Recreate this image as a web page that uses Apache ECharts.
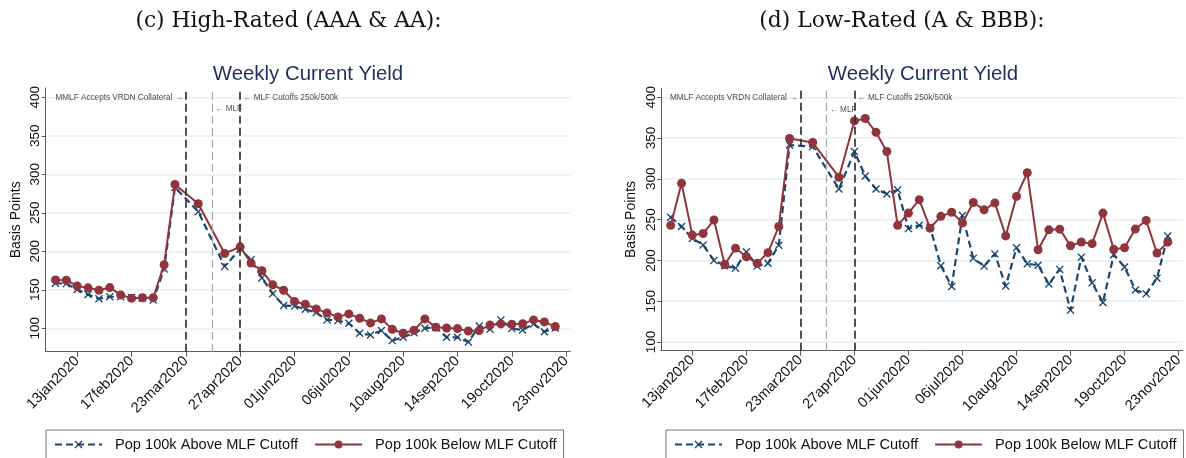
<!DOCTYPE html>
<html>
<head>
<meta charset="utf-8">
<script src="https://cdn.jsdelivr.net/npm/echarts@6/dist/echarts.min.js"></script>
<style>
  html, body { margin: 0; padding: 0; background: #ffffff; }
  #chart { width: 1186px; height: 458px; }
</style>
</head>
<body>
<div id="chart"></div>
<script>
// Observation dates (weekly, with two off-cycle readings around the April facility changes)
const obsDates = [
  '2019-12-30', '2020-01-06', '2020-01-13', '2020-01-20', '2020-01-27', '2020-02-03',
  '2020-02-10', '2020-02-17', '2020-02-24', '2020-03-02', '2020-03-09', '2020-03-16',
  '2020-03-31', '2020-04-17',
  '2020-04-27', '2020-05-04', '2020-05-11', '2020-05-18', '2020-05-25', '2020-06-01',
  '2020-06-08', '2020-06-15', '2020-06-22', '2020-06-29', '2020-07-06', '2020-07-13',
  '2020-07-20', '2020-07-27', '2020-08-03', '2020-08-10', '2020-08-17', '2020-08-24',
  '2020-08-31', '2020-09-07', '2020-09-14', '2020-09-21', '2020-09-28', '2020-10-05',
  '2020-10-12', '2020-10-19', '2020-10-26', '2020-11-02', '2020-11-09', '2020-11-16'
];

// (c) High-rated issuers (AAA & AA), basis points
const highAbove = [
  158.5, 158, 150.3, 143.9, 138.3, 141, 141, 140, 139.5, 136.6, 177, 283,
  251.5, 180.4,
  203, 189, 165.4, 145, 129.5, 128.8, 124.8, 120.4, 110.9, 110, 106.6, 93.5,
  91.3, 97, 84, 88.3, 94.3, 100, 101.4, 88.3, 88.3, 82.2, 103, 98.8,
  110.9, 99.6, 97.8, 105.7, 95.6, 100.4
];
const highBelow = [
  162.8, 162.4, 155, 152.5, 149.4, 152.9, 143.4, 139.1, 139.6, 139.6, 182.6, 286.7,
  261.7, 197.2,
  205.8, 184.8, 174.8, 156.4, 149.4, 134.8, 131.2, 125.2, 120, 114.8, 118.7, 113.1,
  107, 112.2, 98.7, 93.5, 97.5, 112.2, 101.4, 100.4, 99.6, 96.5, 97, 104.4,
  105.7, 105.3, 106, 110.9, 108.3, 102.2
];

// (d) Low-rated issuers (A & BBB), basis points
const lowAbove = [
  253, 241.5, 227, 219, 200, 193.5, 190.5, 210.5, 193, 196.5, 218.5, 341.5,
  339.5, 287.5,
  333.5, 303.5, 287.5, 281.5, 286.5, 239, 243, 241, 193.5, 168, 255, 202.5,
  193, 208, 168.5, 215.5, 196, 194, 171, 189, 139, 204, 172.5, 148.3,
  207, 192, 163.7, 159, 178.2, 230
];
const lowBelow = [
  243, 294.5, 231, 233, 249.5, 195, 215, 204.5, 196.5, 209.5, 241.5, 349.5,
  344.5, 302,
  371, 374, 357, 333.5, 243, 258, 274.5, 239.5, 254, 259, 246, 271,
  262, 270.5, 230, 278.5, 307.5, 213, 237.5, 238.3, 218, 222.5, 220.5, 258,
  213.6, 215.5, 238.4, 249, 209, 222.4
];

// Axis ticks
const xTickDates = ['2020-01-13', '2020-02-17', '2020-03-23', '2020-04-27', '2020-06-01',
                    '2020-07-06', '2020-08-10', '2020-09-14', '2020-10-19', '2020-11-23'];
const yTickValues = [100, 150, 200, 250, 300, 350, 400];

// Policy events drawn as vertical reference lines
const eventDates = ['2020-03-23', '2020-04-09', '2020-04-27'];
const eventLabels = ['MMLF Accepts VRDN Collateral \u2192', '\u2190 MLF', '\u2190 MLF Cutoffs 250k/500k'];
const eventLabelLevels = [400, 385, 400];
const eventLabelSides = ['left', 'right', 'right'];
const eventColors = ['#333333', '#a8a8a8', '#333333'];

const panelTitles = ['(c) High-Rated (AAA & AA):', '(d) Low-Rated (A & BBB):'];
const chartTitle = 'Weekly Current Yield';
const seriesNames = ['Pop 100k Above MLF Cutoff', 'Pop 100k Below MLF Cutoff'];

// ---- helpers ----
const DAY = 86400000;
const ORIGIN = Date.parse('2020-01-13');
const toDay = s => (Date.parse(s) - ORIGIN) / DAY;
const MONTHS = ['jan','feb','mar','apr','may','jun','jul','aug','sep','oct','nov','dec'];
function fmtDay(d) {
  const t = new Date(ORIGIN + Math.round(d) * DAY);
  const dd = String(t.getUTCDate()).padStart(2, '0');
  return dd + MONTHS[t.getUTCMonth()] + t.getUTCFullYear();
}
const pairs = vals => obsDates.map((s, i) => [toDay(s), vals[i]]);

const SANS = '"Liberation Sans", Arial, Helvetica, sans-serif';
const SERIF = '"DejaVu Serif", "Liberation Serif", serif';
const BLUE = '#1a476f';
const RED = '#90353b';
const X_MARK = 'path://M0,1.2 L1.2,0 L5,3.8 L8.8,0 L10,1.2 L6.2,5 L10,8.8 L8.8,10 L5,6.2 L1.2,10 L0,8.8 L3.8,5 Z';

const panels = [
  { grid: { left: 45.7, top: 88, width: 524.6, height: 263.7 }, yMin: 69.6, yMax: 412.1,
    above: highAbove, below: highBelow, cx: 288.5, tx: 308, legendLeft: 46 },
  { grid: { left: 661, top: 88.3, width: 524.6, height: 262.4 }, yMin: 89.3, yMax: 411,
    above: lowAbove, below: lowBelow, cx: 902, tx: 923, legendLeft: 666 }
];

const xTickDays = xTickDates.map(toDay);
const axisColor = '#5a5a5a';

const option = {
  animation: false,
  backgroundColor: '#ffffff',
  grid: panels.map(p => Object.assign({ containLabel: false }, p.grid)),
  xAxis: panels.map((p, i) => ({
    type: 'value', gridIndex: i, min: -20.3, max: 317.7,
    axisLine: { show: true, onZero: false, lineStyle: { color: axisColor, width: 1 } },
    axisTick: { show: true, customValues: xTickDays, length: 5, lineStyle: { color: axisColor, width: 1 } },
    axisLabel: { customValues: xTickDays, rotate: 45, margin: 7, fontSize: 14.5,
                 color: '#111', fontFamily: SANS, formatter: v => fmtDay(v) },
    splitLine: { show: false }
  })),
  yAxis: panels.map((p, i) => ({
    type: 'value', gridIndex: i, min: p.yMin, max: p.yMax,
    name: 'Basis Points', nameLocation: 'middle', nameGap: 23,
    nameTextStyle: { fontSize: 14, color: '#111', fontFamily: SANS },
    axisLine: { show: true, onZero: false, lineStyle: { color: axisColor, width: 1 } },
    axisTick: { show: true, customValues: yTickValues, length: 4, lineStyle: { color: axisColor, width: 1 } },
    axisLabel: { customValues: yTickValues, rotate: 90, margin: 3, fontSize: 13.5,
                 color: '#111', fontFamily: SANS },
    splitLine: { show: true, lineStyle: { color: '#e7eff1', width: 1.5 } }
  })),
  legend: panels.map(p => ({
    data: seriesNames, left: p.legendLeft, top: 430, orient: 'horizontal',
    itemWidth: 47, itemHeight: 10, itemGap: 16, padding: [7, 7, 7, 8],
    borderColor: '#777', borderWidth: 1, selectedMode: false,
    textStyle: { fontSize: 14.6, color: '#111', fontFamily: SANS, padding: [0, 0, 0, 8] }
  })),
  graphic: [].concat(...panels.map((p, i) => ([
    { type: 'text', x: p.cx, y: 21, style: { text: panelTitles[i], font: '21.8px ' + SERIF,
      fill: '#111', textAlign: 'center', textVerticalAlign: 'middle' } },
    { type: 'text', x: p.tx, y: 74, style: { text: chartTitle, font: '20.4px ' + SANS,
      fill: '#1e2f5e', textAlign: 'center', textVerticalAlign: 'middle' } }
  ]))),
  series: [].concat(...panels.map((p, i) => ([
    {
      name: seriesNames[0], type: 'line', xAxisIndex: i, yAxisIndex: i,
      data: pairs(p.above), symbol: X_MARK, symbolSize: 8, showSymbol: true,
      lineStyle: { color: BLUE, width: 2.2, type: [7, 4] },
      itemStyle: { color: BLUE }, z: 3,
      markLine: {
        silent: true, symbol: ['none', 'none'], label: { show: false },
        data: eventDates.map((d, k) => ({ xAxis: toDay(d),
          lineStyle: { color: eventColors[k], width: k === 1 ? 1.2 : 1.7, type: [8, 4] } }))
      }
    },
    {
      name: seriesNames[1], type: 'line', xAxisIndex: i, yAxisIndex: i,
      data: pairs(p.below), symbol: 'circle', symbolSize: 9, showSymbol: true,
      lineStyle: { color: RED, width: 2 },
      itemStyle: { color: RED }, z: 4
    },
    {
      name: 'events', type: 'scatter', xAxisIndex: i, yAxisIndex: i, symbolSize: 0, silent: true,
      data: eventDates.map((d, k) => ({
        value: [toDay(d), eventLabelLevels[k]],
        label: { show: true, position: eventLabelSides[k], distance: 3, formatter: eventLabels[k],
                 fontSize: 8.2, color: '#222', fontFamily: SANS }
      }))
    }
  ])))
};

const chart = echarts.init(document.getElementById('chart'), null, { renderer: 'canvas' });
chart.setOption(option);
</script>
</body>
</html>
